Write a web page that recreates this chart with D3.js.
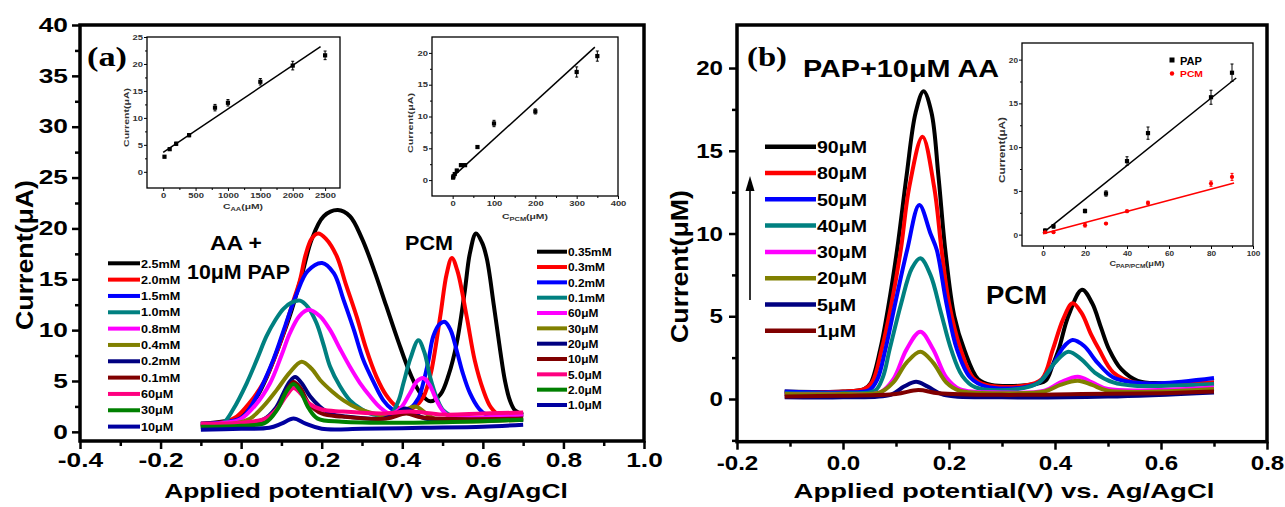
<!DOCTYPE html>
<html><head><meta charset="utf-8">
<script src="https://cdn.jsdelivr.net/npm/d3@7"></script>
<style>body{margin:0;background:#fff} svg{display:block}</style>
</head><body>
<script>
// ---------------- DATA ----------------
// Panel (a)
const aXTicks = [-0.4, -0.2, 0.0, 0.2, 0.4, 0.6, 0.8, 1.0];
const aYTicks = [0, 5, 10, 15, 20, 25, 30, 35, 40];
const aColors = ["#000000","#ff0000","#0000ff","#008080","#ff00ff","#808000","#000080","#800000","#ff0080","#008000","#0000a0"];
const aLabelsAA = ["2.5mM","2.0mM","1.5mM","1.0mM","0.8mM","0.4mM","0.2mM","0.1mM","60μM","30μM","10μM"];
const aLabelsPCM = ["0.35mM","0.3mM","0.2mM","0.1mM","60μM","30μM","20μM","10μM","5.0μM","2.0μM","1.0μM"];
const aCurves = [
 [[-0.1,0.8],[-0.05,1.0],[-0.02,1.2],[0.02,2.5],[0.04,3.5],[0.065,5.5],[0.09,8.0],[0.12,11.3],[0.15,15.3],[0.175,18.9],[0.205,21.2],[0.24,21.8],[0.27,21.2],[0.30,19.0],[0.33,15.9],[0.36,12.4],[0.39,8.9],[0.42,5.7],[0.445,3.8],[0.47,3.0],[0.495,3.7],[0.515,5.6],[0.535,8.7],[0.555,13.8],[0.568,17.6],[0.583,19.5],[0.598,18.6],[0.61,17.0],[0.627,12.5],[0.643,8.0],[0.655,5.0],[0.667,3.1],[0.68,2.1],[0.7,1.7]],
 [[-0.1,0.8],[-0.04,1.0],[-0.011,1.5],[0.02,2.8],[0.055,4.8],[0.08,7.0],[0.105,9.7],[0.125,12.3],[0.146,14.9],[0.16,17.4],[0.175,19.0],[0.191,19.5],[0.21,19.0],[0.237,17.3],[0.26,14.5],[0.287,11.3],[0.31,8.2],[0.336,5.4],[0.36,3.6],[0.385,2.5],[0.411,2.1],[0.432,2.5],[0.452,3.4],[0.47,5.6],[0.494,11.3],[0.51,15.5],[0.523,17.1],[0.537,15.8],[0.56,11.3],[0.58,7.0],[0.601,4.1],[0.62,2.4],[0.643,1.6],[0.7,1.7]],
 [[-0.1,0.8],[-0.03,1.0],[0.005,1.5],[0.04,3.6],[0.08,7.1],[0.11,10.5],[0.138,13.6],[0.165,15.8],[0.201,16.6],[0.23,15.6],[0.254,13.0],[0.28,10.0],[0.303,7.1],[0.33,4.8],[0.353,3.1],[0.375,2.2],[0.394,1.8],[0.42,2.3],[0.44,3.3],[0.452,4.8],[0.465,7.0],[0.477,9.4],[0.493,10.6],[0.506,10.8],[0.52,10.0],[0.535,8.0],[0.55,5.8],[0.568,3.8],[0.59,2.3],[0.609,1.7],[0.7,1.7]],
 [[-0.1,0.7],[-0.07,0.7],[-0.044,0.9],[-0.02,2.2],[0.014,4.8],[0.04,7.2],[0.063,9.4],[0.085,11.0],[0.105,12.1],[0.125,12.7],[0.146,12.9],[0.165,12.3],[0.187,10.7],[0.205,8.5],[0.221,6.4],[0.245,4.5],[0.27,3.1],[0.3,2.2],[0.328,1.7],[0.37,1.7],[0.39,3.0],[0.403,4.8],[0.42,7.2],[0.44,9.0],[0.455,7.8],[0.469,5.4],[0.485,3.4],[0.502,2.1],[0.535,1.4],[0.7,1.3]],
 [[-0.1,0.7],[-0.04,0.9],[-0.003,1.2],[0.035,2.6],[0.072,4.8],[0.1,7.5],[0.121,9.7],[0.145,11.4],[0.167,12.0],[0.195,11.4],[0.221,10.0],[0.245,8.2],[0.27,6.4],[0.295,4.8],[0.32,3.5],[0.345,2.4],[0.37,1.8],[0.395,2.3],[0.419,3.8],[0.437,5.0],[0.452,5.3],[0.468,4.6],[0.485,3.1],[0.5,2.1],[0.518,1.5],[0.7,1.7]],
 [[-0.1,0.6],[-0.02,0.8],[0.022,1.3],[0.055,2.5],[0.088,4.1],[0.12,5.8],[0.15,6.9],[0.175,6.2],[0.196,5.1],[0.225,4.0],[0.254,3.1],[0.29,2.3],[0.328,1.8],[0.37,1.6],[0.4,2.0],[0.432,2.5],[0.46,1.8],[0.485,1.2],[0.7,1.2]],
 [[-0.1,0.6],[0.0,0.8],[0.055,1.2],[0.085,2.3],[0.105,3.8],[0.12,4.9],[0.134,5.4],[0.15,4.8],[0.171,3.5],[0.195,2.5],[0.221,1.8],[0.26,1.5],[0.353,1.3],[0.38,1.7],[0.407,2.3],[0.425,2.0],[0.444,1.5],[0.47,1.2],[0.7,1.2]],
 [[-0.1,0.5],[0.0,0.7],[0.06,1.1],[0.09,2.3],[0.113,4.0],[0.13,4.9],[0.147,4.3],[0.168,2.8],[0.2,1.8],[0.25,1.5],[0.36,1.3],[0.41,1.8],[0.45,1.4],[0.7,1.3]],
 [[-0.1,0.8],[0.0,0.9],[0.06,1.3],[0.09,2.3],[0.113,3.6],[0.13,4.3],[0.147,3.8],[0.168,2.8],[0.2,2.2],[0.25,2.0],[0.35,1.8],[0.42,2.0],[0.5,1.7],[0.6,1.8],[0.7,1.9]],
 [[-0.1,0.5],[0.0,0.6],[0.06,0.9],[0.09,2.2],[0.113,4.0],[0.13,4.7],[0.147,4.0],[0.168,2.3],[0.19,1.3],[0.25,1.0],[0.4,0.9],[0.55,1.0],[0.7,1.2]],
 [[-0.1,0.2],[0.0,0.3],[0.07,0.4],[0.1,0.8],[0.13,1.3],[0.16,0.8],[0.2,0.3],[0.3,0.3],[0.45,0.4],[0.6,0.5],[0.7,0.7]]
];
// Inset a1 (AA)
const insAA_x = [20,100,200,400,800,1000,1500,2000,2500];
const insAA_y = [2.8,4.2,5.2,6.8,11.9,12.8,16.7,19.7,21.6];
const insAA_err = [0.2,0.2,0.3,0.3,0.6,0.6,0.6,0.8,0.8];
const insAA_fit = [[0,3.6],[2430,23.2]];
const insAA_xTicks = [0,500,1000,1500,2000,2500];
const insAA_yTicks = [0,5,10,15,20,25];
// Inset a2 (PCM)
const insPCM_x = [1,2,5,10,20,30,60,100,200,300,350];
const insPCM_y = [0.4,0.6,0.95,1.5,2.35,2.35,5.2,8.9,10.8,17.0,19.5];
const insPCM_err = [0.2,0.2,0.2,0.2,0.2,0.2,0.2,0.5,0.4,0.8,0.8];
const insPCM_fit = [[0,0.5],[344,20.9]];
const insPCM_xTicks = [0,100,200,300,400];
const insPCM_yTicks = [0,5,10,15,20];

// Panel (b)
const bXTicks = [-0.2, 0.0, 0.2, 0.4, 0.6, 0.8];
const bYTicks = [0, 5, 10, 15, 20];
const bColors = ["#000000","#ff0000","#0000ff","#008080","#ff00ff","#808000","#000080","#800000"];
const bLabels = ["90μM","80μM","50μM","40μM","30μM","20μM","5μM","1μM"];
const bCurves = [
 [[-0.11,0.45],[0.0,0.45],[0.04,0.6],[0.052,0.95],[0.07,2.96],[0.085,5.5],[0.102,9.0],[0.12,13.5],[0.137,17.3],[0.152,18.6],[0.167,17.3],[0.18,13.5],[0.193,9.0],[0.21,5.0],[0.229,2.96],[0.255,1.2],[0.28,0.85],[0.35,0.85],[0.382,1.1],[0.395,2.0],[0.407,3.0],[0.425,5.0],[0.451,6.6],[0.47,5.8],[0.487,4.3],[0.502,3.0],[0.525,1.8],[0.556,1.1],[0.6,0.95],[0.7,1.0]],
 [[-0.11,0.4],[0.0,0.45],[0.04,0.6],[0.055,1.0],[0.073,3.0],[0.09,5.5],[0.109,9.0],[0.125,12.8],[0.15,15.85],[0.172,12.8],[0.186,9.0],[0.2,5.8],[0.222,3.0],[0.245,1.3],[0.27,0.85],[0.34,0.8],[0.375,1.2],[0.396,3.0],[0.415,4.8],[0.433,5.78],[0.45,5.2],[0.468,3.9],[0.483,3.0],[0.51,1.6],[0.55,1.0],[0.7,1.0]],
 [[-0.11,0.45],[0.0,0.4],[0.05,0.55],[0.065,1.2],[0.08,3.0],[0.1,6.0],[0.121,9.0],[0.144,11.72],[0.165,10.0],[0.177,9.0],[0.195,5.8],[0.215,3.0],[0.24,1.3],[0.27,0.75],[0.34,0.7],[0.37,1.0],[0.395,2.0],[0.415,3.1],[0.433,3.56],[0.455,3.2],[0.48,2.2],[0.51,1.3],[0.55,1.0],[0.6,0.95],[0.7,1.27]],
 [[-0.11,0.35],[0.0,0.35],[0.06,0.5],[0.075,1.3],[0.088,3.0],[0.11,5.8],[0.13,7.9],[0.146,8.5],[0.165,7.5],[0.185,5.2],[0.204,3.0],[0.225,1.4],[0.25,0.7],[0.33,0.6],[0.37,1.0],[0.4,2.2],[0.425,2.86],[0.45,2.4],[0.475,1.6],[0.51,1.0],[0.55,0.8],[0.7,0.9]],
 [[-0.11,0.3],[0.0,0.3],[0.07,0.4],[0.095,1.2],[0.12,3.0],[0.146,4.07],[0.17,3.0],[0.195,1.3],[0.22,0.6],[0.3,0.4],[0.38,0.5],[0.41,1.0],[0.443,1.35],[0.47,1.0],[0.5,0.6],[0.7,0.7]],
 [[-0.11,0.3],[0.0,0.3],[0.07,0.4],[0.095,1.0],[0.12,2.2],[0.146,2.86],[0.17,2.2],[0.195,1.0],[0.22,0.5],[0.3,0.35],[0.38,0.45],[0.41,0.85],[0.443,1.1],[0.47,0.85],[0.5,0.5],[0.7,0.6]],
 [[-0.11,0.1],[0.0,0.1],[0.09,0.25],[0.115,0.75],[0.138,1.05],[0.16,0.75],[0.19,0.25],[0.3,0.1],[0.5,0.15],[0.7,0.4]],
 [[-0.11,0.15],[0.0,0.2],[0.1,0.3],[0.142,0.54],[0.18,0.35],[0.3,0.25],[0.45,0.3],[0.6,0.35],[0.7,0.45]]
];
// Inset b
const insB_x = [1,5,20,30,40,50,80,90];
const insB_pap = [0.45,0.95,2.7,4.7,8.4,11.6,15.7,18.5];
const insB_papErr = [0.2,0.2,0.2,0.3,0.5,0.7,0.8,1.0];
const insB_pcm = [0.27,0.27,1.07,1.26,2.67,3.62,5.83,6.6];
const insB_pcmErr = [0.1,0.1,0.2,0.1,0.15,0.2,0.3,0.4];
const insB_papFit = [[0,0.2],[92,17.9]];
const insB_pcmFit = [[0,0.1],[91,5.9]];
const insB_xTicks = [0,20,40,60,80,100];
const insB_yTicks = [0,5,10,15,20];

// ---------------- DRAWING ----------------
const FF = "'Liberation Sans', Arial, Helvetica, sans-serif";
const svg = d3.select('body').append('svg').attr('width',1285).attr('height',507).style('background','#fff');

function txt(g, parts, x, y, o) {
  const t = g.append('text').attr('font-family', o.ff||FF).attr('font-weight', o.fw||'bold')
    .attr('font-size', o.fs).attr('fill', o.fill||'#000').attr('text-anchor', o.anchor||'start');
  if (typeof parts === 'string') t.text(parts);
  else parts.forEach(p => {
    const s = t.append('tspan').text(p.t);
    if (p.sub) s.attr('font-size', o.fs*0.72).attr('dy', o.fs*0.28);
    if (p.back) s.attr('dy', -o.fs*0.28);
  });
  let sx = o.sx || 1;
  if (o.width) sx = o.width / t.node().getComputedTextLength();
  t.attr('transform', `translate(${x},${y}) rotate(${o.rot||0}) scale(${sx},1)`);
  return t;
}

function axes(g, x, y, o) {
  const [x0,x1] = x.range(), [y0,y1] = y.range();
  const mk = (axis, tr) => g.append('g').attr('transform', tr).call(axis);
  const ax = mk(d3.axisBottom(x).tickValues(o.xTicks).tickSize(o.tl).tickPadding(o.xPad).tickFormat(o.xFmt), `translate(0,${y0})`);
  const ay = mk(d3.axisLeft(y).tickValues(o.yTicks).tickSize(o.tl).tickFormat(o.yFmt), `translate(${x0},0)`);
  const axm = o.xMinor ? mk(d3.axisBottom(x).tickValues(o.xMinor).tickSize(o.tm).tickFormat(''), `translate(0,${y0})`) : null;
  const aym = o.yMinor ? mk(d3.axisLeft(y).tickValues(o.yMinor).tickSize(o.tm).tickFormat(''), `translate(${x0},0)`) : null;
  [ax,ay,axm,aym].filter(a=>a).forEach(a => {
    a.select('.domain').remove();
    a.selectAll('line').attr('stroke','#000').attr('stroke-width',o.tw);
  });
  ax.selectAll('text').attr('font-family',FF).attr('font-weight','bold').attr('font-size',o.fs).attr('fill',o.tc||'#000')
    .attr('transform',`scale(${o.sx},1)`);
  ay.selectAll('text').attr('font-family',FF).attr('font-weight','bold').attr('font-size',o.fs).attr('fill',o.tc||'#000')
    .attr('x',0).attr('transform',`translate(${-o.yGap},0) scale(${o.sx},1)`);
  g.append('rect').attr('x',x0).attr('y',y1).attr('width',x1-x0).attr('height',y0-y1)
    .attr('fill','none').attr('stroke','#000').attr('stroke-width',o.fw);
}

const f1 = d => d.toFixed(1);
const f0 = d => String(d);
const range = (a,b,s) => d3.range(a, b + s/2, s);

// ===== Panel (a) =====
const ga = svg.append('g');
const xa = d3.scaleLinear().domain([-0.4,1.0]).range([80,644]);
const ya = d3.scaleLinear().domain([-0.9,40]).range([441,25]);
const lineA = d3.line().x(d=>xa(d[0])).y(d=>ya(d[1])).curve(d3.curveCatmullRom.alpha(0.5));
aCurves.forEach((c,i) => ga.append('path').attr('d', lineA(c)).attr('fill','none')
  .attr('stroke', aColors[i]).attr('stroke-width',4).attr('stroke-linejoin','round'));
axes(ga, xa, ya, {xTicks:aXTicks, yTicks:aYTicks, xMinor:range(-0.3,0.9,0.2), yMinor:range(2.5,37.5,5),
  tl:8, tm:5, tw:2.5, fw:3.5, xPad:4, xFmt:f1, yFmt:f0, fs:19.5, sx:1.35, yGap:12});

// legends (a)
aLabelsAA.forEach((l,i) => {
  const yy = 263.3 + i*16.33;
  ga.append('line').attr('x1',108).attr('x2',140).attr('y1',yy).attr('y2',yy).attr('stroke',aColors[i]).attr('stroke-width',4);
  txt(ga, l, 141, yy+4.2, {fs:11, sx:1.15});
});
aLabelsPCM.forEach((l,i) => {
  const yy = 251.7 + i*15.33;
  ga.append('line').attr('x1',537).attr('x2',567).attr('y1',yy).attr('y2',yy).attr('stroke',aColors[i]).attr('stroke-width',4);
  txt(ga, l, 568, yy+4.2, {fs:11, sx:1.08});
});
txt(ga, '(a)', 87, 66, {fs:28, ff:"'Liberation Serif','Times New Roman',serif", width:40});
txt(ga, 'AA +', 210, 250, {fs:21, width:52});
txt(ga, '10μM PAP', 187, 279, {fs:21, width:103});
txt(ga, 'PCM', 405, 250, {fs:20, width:48});
txt(ga, 'Current(μA)', 33, 255, {fs:24, rot:-90, anchor:'middle', width:150});
txt(ga, 'Applied potential(V) vs. Ag/AgCl', 366, 498, {fs:20, anchor:'middle', width:404});

// inset helpers
function inset(g, xs, ys) {
  const gi = g.append('g');
  gi.append('rect').attr('x',xs.range()[0]).attr('y',ys.range()[1]).attr('width',xs.range()[1]-xs.range()[0])
    .attr('height',ys.range()[0]-ys.range()[1]).attr('fill','#fff');
  return gi;
}
function scatter(gi, xs, ys, X, Y, E, color, shape) {
  X.forEach((xv,i) => {
    const cx = xs(xv), cy = ys(Y[i]);
    gi.append('line').attr('x1',cx).attr('x2',cx).attr('y1',ys(Y[i]-E[i])).attr('y2',ys(Y[i]+E[i])).attr('stroke',color).attr('stroke-width',1);
    [Y[i]-E[i], Y[i]+E[i]].forEach(v => gi.append('line').attr('x1',cx-1.5).attr('x2',cx+1.5).attr('y1',ys(v)).attr('y2',ys(v)).attr('stroke',color).attr('stroke-width',1));
    if (shape==='circle') gi.append('circle').attr('cx',cx).attr('cy',cy).attr('r',2.1).attr('fill',color);
    else gi.append('rect').attr('x',cx-2.1).attr('y',cy-2.1).attr('width',4.2).attr('height',4.2).attr('fill',color);
  });
}
function fitLine(gi, xs, ys, F, color) {
  gi.append('path').attr('d', d3.line().x(d=>xs(d[0])).y(d=>ys(d[1]))(F)).attr('stroke',color).attr('stroke-width',1.5).attr('fill','none');
}

// Inset a1
const x1s = d3.scaleLinear().domain([-250,2730]).range([147,340]);
const y1s = d3.scaleLinear().domain([-3,25]).range([188,37]);
const g1 = inset(ga, x1s, y1s);
fitLine(g1, x1s, y1s, insAA_fit, '#000');
scatter(g1, x1s, y1s, insAA_x, insAA_y, insAA_err, '#000', 'square');
axes(g1, x1s, y1s, {xTicks:insAA_xTicks, yTicks:insAA_yTicks, xMinor:range(250,2250,500), yMinor:range(2.5,22.5,5),
  tl:3, tm:2, tw:1, fw:1.3, xPad:2, xFmt:f0, yFmt:f0, fs:7, sx:1.35, yGap:4, tc:'#333'});
txt(g1, 'Current(μA)', 129, 117.5, {fs:8, rot:-90, anchor:'middle', width:59, fill:'#333'});
txt(g1, [{t:'C'},{t:'AA',sub:true},{t:'(μM)',back:true}], 243, 209, {fs:8, anchor:'middle', width:40, fill:'#333'});

// Inset a2
const x2s = d3.scaleLinear().domain([-50,400]).range([432,618]);
const y2s = d3.scaleLinear().domain([-2.5,22.5]).range([196,37]);
const g2 = inset(ga, x2s, y2s);
fitLine(g2, x2s, y2s, insPCM_fit, '#000');
scatter(g2, x2s, y2s, insPCM_x, insPCM_y, insPCM_err, '#000', 'square');
axes(g2, x2s, y2s, {xTicks:insPCM_xTicks, yTicks:insPCM_yTicks, xMinor:range(50,350,100), yMinor:range(2.5,17.5,5),
  tl:3, tm:2, tw:1, fw:1.3, xPad:2, xFmt:f0, yFmt:f0, fs:7, sx:1.35, yGap:4, tc:'#333'});
txt(g2, 'Current(μA)', 413, 123, {fs:8, rot:-90, anchor:'middle', width:60, fill:'#333'});
txt(g2, [{t:'C'},{t:'PCM',sub:true},{t:'(μM)',back:true}], 525, 219, {fs:8, anchor:'middle', width:46, fill:'#333'});

// ===== Panel (b) =====
const gb = svg.append('g');
const xb = d3.scaleLinear().domain([-0.2,0.8]).range([737,1267]);
const yb = d3.scaleLinear().domain([-2.58,22.6]).range([441.7,25]);
const lineB = d3.line().x(d=>xb(d[0])).y(d=>yb(d[1])).curve(d3.curveCatmullRom.alpha(0.5));
bCurves.forEach((c,i) => gb.append('path').attr('d', lineB(c)).attr('fill','none')
  .attr('stroke', bColors[i]).attr('stroke-width',4).attr('stroke-linejoin','round'));
axes(gb, xb, yb, {xTicks:bXTicks, yTicks:bYTicks, xMinor:range(-0.1,0.7,0.2), yMinor:range(-2.5,17.5,5),
  tl:8, tm:5, tw:2.5, fw:3.5, xPad:5, xFmt:f1, yFmt:f0, fs:21, sx:1.15, yGap:14});
bLabels.forEach((l,i) => {
  const yy = 146.7 + i*26.3;
  gb.append('line').attr('x1',765).attr('x2',816).attr('y1',yy).attr('y2',yy).attr('stroke',bColors[i]).attr('stroke-width',4.5);
  txt(gb, l, 817, yy+6.2, {fs:17, sx:1.15});
});
// arrow
gb.append('line').attr('x1',750).attr('x2',750).attr('y1',300).attr('y2',186).attr('stroke','#000').attr('stroke-width',1.6);
gb.append('path').attr('d','M750,176 L745.5,191 L754.5,191 Z').attr('fill','#000');
txt(gb, '(b)', 747, 66, {fs:28, ff:"'Liberation Serif','Times New Roman',serif", width:40});
txt(gb, 'PAP+10μM AA', 803, 77, {fs:24, width:196});
txt(gb, 'PCM', 986, 304, {fs:25, width:61});
txt(gb, 'Current(μM)', 688, 266.5, {fs:24, rot:-90, anchor:'middle', width:153});
txt(gb, 'Applied potential(V) vs. Ag/AgCl', 1004, 498, {fs:20, anchor:'middle', width:421});

// Inset b
const x3s = d3.scaleLinear().domain([-10,100]).range([1022,1253]);
const y3s = d3.scaleLinear().domain([-1.3,21.9]).range([246,43]);
const g3 = inset(gb, x3s, y3s);
fitLine(g3, x3s, y3s, insB_papFit, '#000');
fitLine(g3, x3s, y3s, insB_pcmFit, '#ff0000');
scatter(g3, x3s, y3s, insB_x, insB_pap, insB_papErr, '#000', 'square');
scatter(g3, x3s, y3s, insB_x, insB_pcm, insB_pcmErr, '#ff0000', 'circle');
axes(g3, x3s, y3s, {xTicks:insB_xTicks, yTicks:insB_yTicks, xMinor:range(10,90,20), yMinor:range(2.5,17.5,5),
  tl:3, tm:2, tw:1, fw:1.3, xPad:2, xFmt:f0, yFmt:f0, fs:7.5, sx:1.1, yGap:4, tc:'#333'});
g3.append('rect').attr('x',1169.5).attr('y',57.5).attr('width',5).attr('height',5).attr('fill','#000');
txt(g3, 'PAP', 1180, 65, {fs:11, width:22, fw:'bold'});
g3.append('circle').attr('cx',1172).attr('cy',73.5).attr('r',2.2).attr('fill','#ff0000');
txt(g3, 'PCM', 1180, 77, {fs:9, width:23, fill:'#ff0000'});
txt(g3, 'Current(μA)', 1005, 150, {fs:9, rot:-90, anchor:'middle', width:66, fill:'#333'});
txt(g3, [{t:'C'},{t:'PAP/PCM',sub:true},{t:'(μM)',back:true}], 1137, 266, {fs:7, anchor:'middle', width:55, fill:'#333'});
</script></body></html>
